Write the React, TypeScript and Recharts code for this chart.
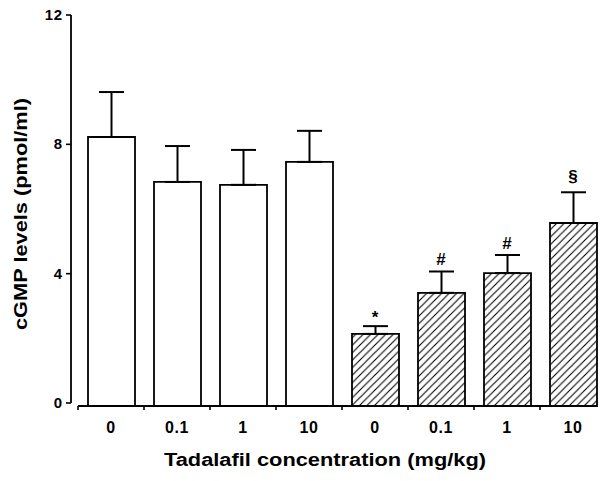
import React from 'react';
import { ComposedChart, Bar, Line, XAxis, YAxis, ErrorBar, LabelList, Cell, Label } from 'recharts';

const doses = ['0', '0.1', '1', '10', '0', '0.1', '1', '10'];
const groups = ['control', 'control', 'control', 'control', 'treated', 'treated', 'treated', 'treated'];
const means = [8.32, 6.93, 6.84, 7.55, 2.23, 3.5, 4.11, 5.66];
const sems = [1.39, 1.11, 1.08, 0.96, 0.24, 0.66, 0.56, 0.95];
const marks = ['', '', '', '', '*', '#', '#', '§'];
const yTicks = [0, 4, 8, 12];
const xTitle = 'Tadalafil concentration (mg/kg)';
const yTitle = 'cGMP levels (pmol/ml)';

const rows = doses.map((d, i) => ({
  key: `${groups[i]}-${d}`,
  dose: d,
  group: groups[i],
  mean: means[i],
  err: [0, sems[i]],
  top: means[i] + sems[i],
  mark: marks[i],
}));

const FONT = '"Liberation Sans", Arial, Helvetica, sans-serif';

const XTick = (props: any) => {
  const { x, y, payload } = props;
  const off = payload && typeof payload.offset === 'number' ? payload.offset : 33;
  const row = rows.find((r) => r.key === payload.value);
  return (
    <g>
      <line x1={x - off} x2={x - off} y1={y} y2={y + 4} stroke="#000" strokeWidth={1.6} />
      <text x={x} y={y + 27} textAnchor="middle" fontSize={16} fontWeight="bold" fontFamily={FONT} letterSpacing={0.6} fill="#000">
        {row ? row.dose : ''}
      </text>
    </g>
  );
};

const YTick = (props: any) => {
  const { x, y, payload } = props;
  return (
    <g>
      <line x1={x - 12} x2={x - 7} y1={y - 3} y2={y - 3} stroke="#000" strokeWidth={1.6} />
      <text x={x - 15} y={y + 2} textAnchor="end" fontSize={15} fontWeight="bold" fontFamily={FONT} letterSpacing={0.8} fill="#000">
        {payload.value}
      </text>
    </g>
  );
};

const XLabel = (props: any) => {
  const vb = props.viewBox || { x: 78, y: 406, width: 528, height: 67 };
  const cx = vb.x + vb.width / 2 - 17;
  return (
    <text x={cx} y={vb.y + 60} textAnchor="middle" fontSize={18} fontWeight="bold" fontFamily={FONT} fill="#000" textLength={322} lengthAdjust="spacingAndGlyphs">
      {xTitle}
    </text>
  );
};

const YLabel = (props: any) => {
  const vb = props.viewBox || { x: 0, y: 18, width: 78, height: 388 };
  const cx = vb.x + 21;
  const cy = vb.y + vb.height / 2 + 2;
  return (
    <text x={cx} y={cy} transform={`rotate(-90 ${cx} ${cy})`} textAnchor="middle" dominantBaseline="central" fontSize={18} fontWeight="bold" fontFamily={FONT} fill="#000" textLength={232} lengthAdjust="spacingAndGlyphs">
      {yTitle}
    </text>
  );
};

const markDy: Record<string, number> = { '*': 3, '#': 6, '§': 10 };

const MarkLabel = (props: any) => {
  const { x, y, value } = props;
  if (!value) return null;
  return (
    <text x={x} y={y - (markDy[value] ?? 6)} textAnchor="middle" fontSize={17} fontWeight="bold" fontFamily={FONT} fill="#000">
      {value}
    </text>
  );
};

export default function App() {
  return (
    <div style={{ width: 606, height: 473, marginTop: -8, marginLeft: -8, background: '#fff' }}>
      <ComposedChart width={606} height={473} data={rows} margin={{ top: 18, right: 0, bottom: 0, left: 0 }}>
        <defs>
          <pattern id="hatch" patternUnits="userSpaceOnUse" width={7.5} height={7.5}>
            <rect width={7.5} height={7.5} fill="#fff" />
            <path d="M-1,1 l2,-2 M0,7.5 l7.5,-7.5 M6.5,8.5 l2,-2" stroke="#000" strokeWidth={1.1} />
          </pattern>
        </defs>
        <XAxis
          dataKey="key"
          type="category"
          height={67}
          tickSize={0}
          tickMargin={0}
          tickLine={false}
          interval={0}
          axisLine={{ stroke: '#000', strokeWidth: 1.8 }}
          tick={<XTick />}
        >
          <Label content={<XLabel />} />
        </XAxis>
        <YAxis
          domain={[0, 12]}
          ticks={yTicks}
          width={78}
          tickSize={0}
          tickMargin={0}
          tickLine={false}
          interval={0}
          axisLine={{ stroke: '#000', strokeWidth: 1.8, transform: 'translate(-7,-3)' }}
          tick={<YTick />}
        >
          <Label content={<YLabel />} />
        </YAxis>
        <Bar dataKey="mean" barSize={47} isAnimationActive={false} stroke="#000" strokeWidth={1.8}>
          {rows.map((r) => (
            <Cell key={r.key} fill={r.group === 'control' ? '#fff' : 'url(#hatch)'} stroke="#000" strokeWidth={1.8} />
          ))}
          <ErrorBar dataKey="err" width={12.5} stroke="#000" strokeWidth={2} direction="y" />
        </Bar>
        <Line dataKey="top" stroke="none" dot={false} activeDot={false} isAnimationActive={false} legendType="none">
          <LabelList dataKey="mark" content={<MarkLabel />} />
        </Line>
      </ComposedChart>
    </div>
  );
}
